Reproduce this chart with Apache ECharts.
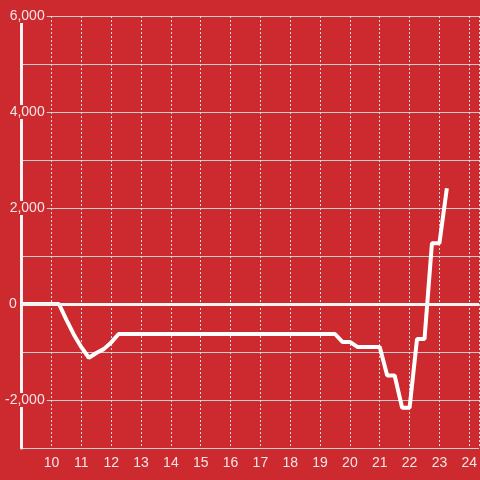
<!DOCTYPE html>
<html>
<head>
<meta charset="utf-8">
<script src="https://cdn.jsdelivr.net/npm/echarts@6/dist/echarts.min.js"></script>
<style>
    html, body { margin: 0; padding: 0; background: #cc2a2e; }
    #chart { width: 480px; height: 480px; }
</style>
</head>
<body>
<div id="chart"></div>
<script>
    // hour of day and running value
    var hours = [9.0, 10.25, 10.5, 10.75, 11.0, 11.25, 11.5, 11.75, 12.0, 12.25,
        19.5, 19.75, 20.0, 20.25, 21.0, 21.25, 21.5, 21.75, 22.0, 22.25, 22.5, 22.75, 23.0, 23.25];
    var values = [0, 0, -330, -640, -900, -1120, -1020, -940, -800, -625,
        -625, -790, -790, -895, -895, -1490, -1490, -2160, -2160, -730, -730, 1265, 1265, 2410];
    var xTicks = [10, 11, 12, 13, 14, 15, 16, 17, 18, 19, 20, 21, 22, 23, 24];
    var yLabels = [-2000, 0, 2000, 4000, 6000];

    var bg = '#cc2a2e';
    var chart = echarts.init(document.getElementById('chart'));
    var points = hours.map(function (h, i) { return [h, values[i]]; });

    chart.setOption({
        animation: false,
        backgroundColor: bg,
        grid: {
            left: 20,
            right: 0,
            top: 16,
            bottom: 32
        },
        xAxis: {
            type: 'value',
            min: 9,
            max: 24.33,
            interval: 1,
            axisLine: {
                lineStyle: { color: '#d8d8d8', width: 1 }
            },
            axisTick: { show: false },
            splitLine: {
                show: true,
                lineStyle: { color: '#dddddd', width: 1, type: [2, 2] }
            },
            axisLabel: {
                color: '#f2e6e6',
                fontSize: 14,
                fontFamily: 'Liberation Sans, Arial, sans-serif',
                margin: 8,
                showMaxLabel: false,
                formatter: function (v) {
                    return xTicks.indexOf(v) >= 0 ? String(v) : '';
                }
            }
        },
        yAxis: {
            type: 'value',
            min: -3000,
            max: 6000,
            interval: 1000,
            axisLine: {
                show: true,
                onZero: false,
                lineStyle: { color: '#f4f4f4', width: 3 }
            },
            axisTick: { show: false },
            splitLine: {
                lineStyle: { color: '#cccccc', width: 1 }
            },
            axisLabel: {
                margin: -25,
                formatter: function (v) {
                    if (yLabels.indexOf(v) < 0) { return ''; }
                    if (v === 0) { return '{z|0}'; }
                    return '{b|' + v.toLocaleString('en-US') + '}';
                },
                rich: {
                    b: {
                        color: '#f2e6e6',
                        fontSize: 14,
                        fontFamily: 'Liberation Sans, Arial, sans-serif',
                        lineHeight: 16,
                        backgroundColor: bg,
                        padding: [0, 2, 0, 2]
                    },
                    z: {
                        color: '#f2e6e6',
                        fontSize: 14,
                        fontFamily: 'Liberation Sans, Arial, sans-serif',
                        lineHeight: 16,
                        padding: [0, 30, 0, 0]
                    }
                }
            }
        },
        series: [
            {
                type: 'line',
                data: points,
                showSymbol: false,
                symbol: 'none',
                lineStyle: { color: '#ffffff', width: 4 },
                markLine: {
                    silent: true,
                    symbol: 'none',
                    label: { show: false },
                    lineStyle: { color: '#f4f4f4', width: 3, type: 'solid' },
                    data: [{ yAxis: 0 }]
                }
            }
        ]
    });
</script>
</body>
</html>
